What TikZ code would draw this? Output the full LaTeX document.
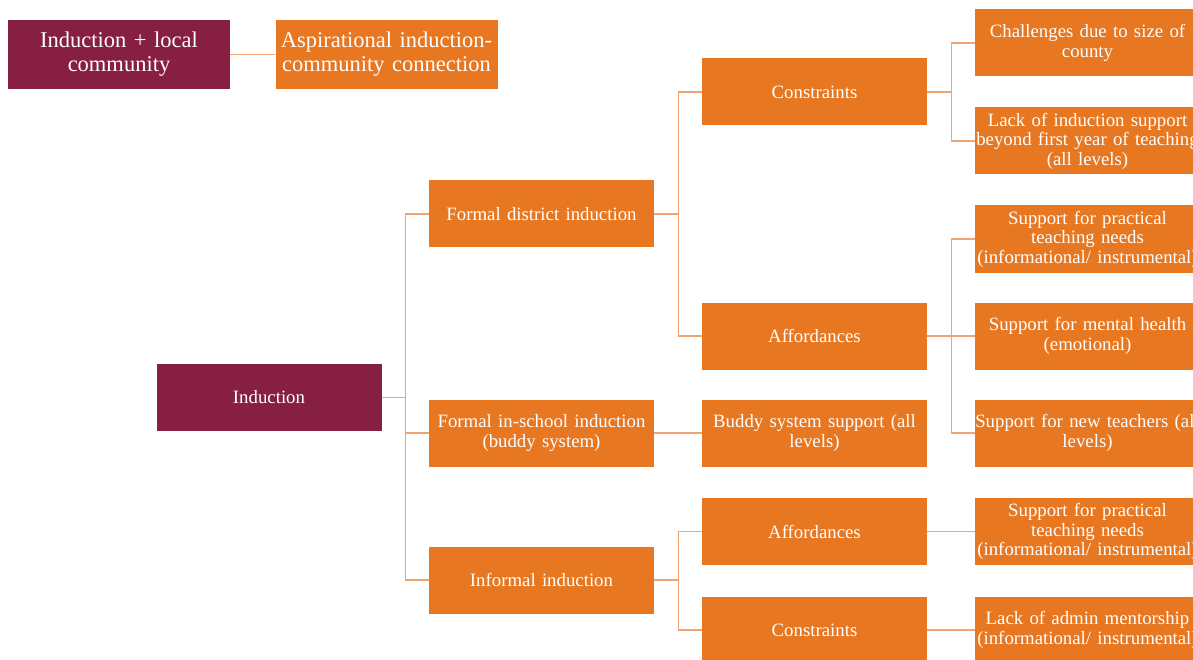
\documentclass[tikz,border=0pt]{standalone}
\usepackage{fontspec}
\setmainfont{Liberation Serif}
\definecolor{vtorange}{RGB}{232,119,34}
\definecolor{vtmaroon}{RGB}{134,31,65}
\definecolor{linkcol}{RGB}{241,164,112}
\begin{document}
\begin{tikzpicture}[x=1pt, y=-1pt,
    box/.style={fill=vtorange, text=white, text width=225pt, inner xsep=0pt,
        minimum height=67pt, align=center, font=\fontsize{18.8}{19.6}\selectfont},
    rootbox/.style={box, fill=vtmaroon},
    bigbox/.style={box, text width=222pt, minimum height=69pt, font=\fontsize{22.5}{24}\selectfont},
    link/.style={draw=linkcol, line width=1.4pt}]
        \useasboundingbox (0,0) rectangle (1193,660);

        %%legend
        \node[bigbox, fill=vtmaroon] (local) at (119,54.5) {Induction + local\\community};
        \node[bigbox] (aspire) at (386.5,54.5) {Aspirational induction-\\community connection};
            \draw[link] (local.east) -- (aspire.west);

        %%root
        \node[rootbox] (ind) at (269,397.5) {Induction};

        %%level 2
        \node[box] (district) at (541.5,214) {Formal district induction};
        \node[box] (school) at (541.5,433) {Formal in-school induction\\(buddy system)};
        \node[box] (informal) at (541.5,580) {Informal induction};

            \draw[link] (ind.east) -- ++(24,0) |- (district.west);
            \draw[link] (ind.east) -- ++(24,0) |- (school.west);
            \draw[link] (ind.east) -- ++(24,0) |- (informal.west);

        %%level 3
        \node[box] (dcon) at (814.5,92) {Constraints};
        \node[box] (daff) at (814.5,336) {Affordances};
        \node[box] (buddy) at (814.5,433) {Buddy system support (all\\levels)};
        \node[box] (iaff) at (814.5,531.5) {Affordances};
        \node[box] (icon) at (814.5,630) {Constraints};

            \draw[link] (district.east) -- ++(24,0) |- (dcon.west);
            \draw[link] (district.east) -- ++(24,0) |- (daff.west);
            \draw[link] (school.east) -- (buddy.west);
            \draw[link] (informal.east) -- ++(24,0) |- (iaff.west);
            \draw[link] (informal.east) -- ++(24,0) |- (icon.west);

        %%level 4
        \node[box] (size) at (1087.5,43) {Challenges due to size of\\county};
        \node[box] (beyond) at (1087.5,141) {Lack of induction support\\beyond first year of teaching\\(all levels)};
        \node[box] (dpract) at (1087.5,239) {Support for practical\\teaching needs\\(informational/ instrumental)};
        \node[box] (mental) at (1087.5,336) {Support for mental health\\(emotional)};
        \node[box] (newteach) at (1087.5,433) {Support for new teachers (all\\levels)};
        \node[box] (ipract) at (1087.5,531.5) {Support for practical\\teaching needs\\(informational/ instrumental)};
        \node[box] (admin) at (1087.5,630) {Lack of admin mentorship\\(informational/ instrumental)};

            \draw[link] (dcon.east) -- ++(24,0) |- (size.west);
            \draw[link] (dcon.east) -- ++(24,0) |- (beyond.west);
            \draw[link] (daff.east) -- ++(24,0) |- (dpract.west);
            \draw[link] (daff.east) -- (mental.west);
            \draw[link] (daff.east) -- ++(24,0) |- (newteach.west);
            \draw[link] (iaff.east) -- (ipract.west);
            \draw[link] (icon.east) -- (admin.west);

    \end{tikzpicture}
\end{document}
